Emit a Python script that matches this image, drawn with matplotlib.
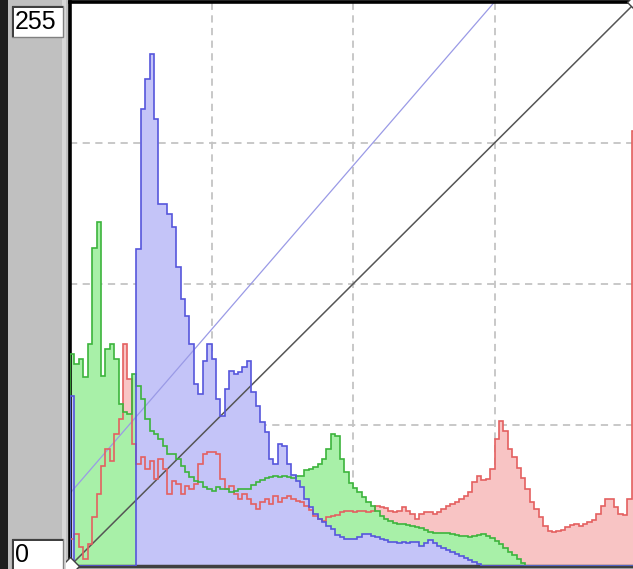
import numpy as np
import matplotlib
matplotlib.use("Agg")
import matplotlib.pyplot as plt
from matplotlib.patches import Rectangle

# histogram heights per channel, 128 bins over 0..255 (in pixels)
blue = [170, 0, 0, 0, 0, 0, 0, 0, 0, 0, 0, 0, 0, 0, 0, 317,
        457, 487, 512, 447, 362, 362, 352, 339, 299, 267, 250, 222, 182, 172, 205, 222,
        207, 167, 150, 177, 195, 192, 194, 199, 205, 174, 160, 144, 134, 107, 102, 122,
        120, 102, 91, 85, 79, 67, 59, 52, 47, 44, 40, 37, 31, 29, 27, 27,
        27, 29, 32, 32, 30, 29, 27, 26, 24, 24, 23, 24, 23, 24, 24, 20,
        23, 26, 23, 20, 18, 16, 14, 12, 10, 8, 6, 4, 2, 0, 0, 0,
        0, 0, 0, 0, 0, 0, 0, 0, 0, 0, 0, 0, 0, 0, 0, 0,
        0, 0, 0, 0, 0, 0, 0, 0, 0, 0, 0, 0, 0, 0, 0, 0]

green = [212, 202, 207, 189, 222, 318, 344, 190, 217, 222, 207, 162, 154, 152, 192, 180,
         167, 147, 135, 132, 127, 120, 112, 112, 107, 100, 94, 89, 85, 84, 79, 77,
         75, 79, 77, 77, 74, 75, 77, 77, 77, 81, 84, 86, 88, 89, 90, 89,
         90, 89, 88, 90, 90, 96, 97, 99, 102, 107, 117, 132, 130, 107, 94, 83,
         78, 74, 69, 64, 60, 55, 50, 47, 45, 43, 42, 42, 41, 40, 39, 38,
         36, 34, 33, 33, 33, 33, 32, 31, 30, 30, 29, 30, 31, 32, 30, 28,
         25, 22, 18, 14, 11, 7, 3, 0, 0, 0, 0, 0, 0, 0, 0, 0,
         0, 0, 0, 0, 0, 0, 0, 0, 0, 0, 0, 0, 0, 0, 0, 0]

red = [27, 32, 19, 7, 22, 49, 72, 100, 117, 105, 132, 147, 222, 187, 122, 102,
       109, 97, 105, 87, 107, 97, 72, 85, 82, 72, 80, 77, 82, 102, 112, 114,
       114, 112, 87, 77, 80, 72, 67, 72, 67, 62, 57, 64, 67, 62, 70, 64,
       68, 70, 67, 65, 64, 60, 56, 50, 47, 45, 49, 50, 51, 54, 55, 55,
       54, 55, 55, 54, 55, 60, 59, 58, 55, 54, 55, 59, 55, 52, 47, 52,
       54, 54, 52, 54, 57, 60, 62, 64, 67, 70, 74, 84, 90, 86, 87, 97,
       127, 145, 135, 117, 109, 98, 88, 77, 64, 57, 49, 40, 35, 34, 35, 36,
       39, 41, 42, 40, 42, 44, 46, 52, 60, 67, 67, 59, 52, 51, 67, 435]

# curve points (input -> output)
curve_x = [0, 255]
curve_y = [0, 255]
blue_curve_x = [0, 192]
blue_curve_y = [33, 256]

W, H = 633, 569
fig = plt.figure(figsize=(W / 100, H / 100), dpi=100)
fig.patch.set_facecolor("#c0c0c0")


def px_rect(x, y, w, h, **kw):
    # rectangle in screen pixels, origin top-left
    r = Rectangle((x / W, 1 - (y + h) / H), w / W, h / H, transform=fig.transFigure, **kw)
    fig.add_artist(r)
    return r


# left dark strip and gray panel
px_rect(0, 0, 8, H, facecolor="#1e1e1e", edgecolor="none")
px_rect(8, 0, 58, H, facecolor="#c0c0c0", edgecolor="none")
px_rect(62, 0, 4, H, facecolor="#d8d8d8", edgecolor="none")

# value boxes
for (by, label) in [(6, "255"), (539, "0")]:
    px_rect(12, by, 51, 31, facecolor="white", edgecolor="#808080", linewidth=1)
    px_rect(12, by, 51, 2, facecolor="#404040", edgecolor="none")
    px_rect(12, by, 2, 31, facecolor="#404040", edgecolor="none")
    fig.text(15 / W, 1 - (by + 16) / H, label, fontsize=18, family="Liberation Sans",
             va="center", ha="left", color="black")

ax = fig.add_axes([70 / W, 3 / H, 566 / W, 564 / H])
ax.set_xlim(0, 256)
ax.set_ylim(0, 256)
ax.set_facecolor("white")
ax.set_xticks([64, 128, 192])
ax.set_yticks([64, 128, 192])
ax.tick_params(length=0, labelbottom=False, labelleft=False)
ax.grid(True, color="#c4c4c4", linestyle=(0, (4, 3)), linewidth=1.3, zorder=0)
ax.set_axisbelow(True)
for s in ["left", "top"]:
    ax.spines[s].set_linewidth(2.6)
    ax.spines[s].set_color("black")
ax.spines["bottom"].set_linewidth(2.5)
ax.spines["bottom"].set_color("#404040")
ax.spines["right"].set_visible(False)

edges = np.arange(129) * 2.0
scale = 256 / 564.0
hists = [
    (red, "#f8c4c4", "#e46060"),
    (green, "#a8f0a8", "#3cb43c"),
    (blue, "#c4c4f8", "#5656dc"),
]
for vals, fc, lc in hists:
    ax.stairs(np.array(vals) * scale, edges, fill=True, color=fc, zorder=1)

ax.plot(curve_x, curve_y, color="#555555", linewidth=1.1, zorder=2)
ax.plot(blue_curve_x, blue_curve_y, color="#9a9ae6", linewidth=0.9, zorder=2)

for vals, fc, lc in hists:
    ax.stairs(np.array(vals) * scale, edges, fill=False, color=lc, linewidth=1.2, zorder=3)

# curve end handles
ax.plot([0, 256], [0, 256], linestyle="none", marker="D", markersize=9,
        markerfacecolor="white", markeredgecolor="#404040", markeredgewidth=1,
        clip_on=False, zorder=4)

fig.savefig("out.png", dpi=100)
